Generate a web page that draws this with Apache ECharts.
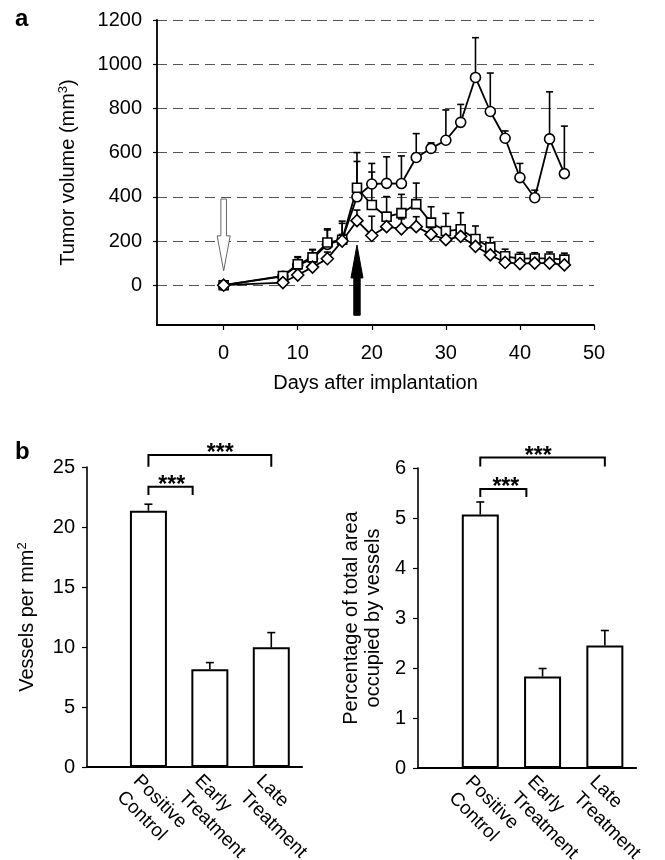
<!DOCTYPE html>
<html><head><meta charset="utf-8">
<script src="https://cdn.jsdelivr.net/npm/echarts@6/dist/echarts.min.js"></script>
<style>html,body{margin:0;padding:0;background:#fff}#c{width:665px;height:860px}</style>
</head><body><div id="c"></div>
<script>
// ---------- Panel a: tumor volume ----------
const days = [0, 8, 10, 12, 14, 16, 18, 20, 22, 24, 26, 28, 30, 32, 34, 36, 38, 40, 42, 44, 46];
const posMean  = [0, 40, 90, 120, 185, 205, 400, 458, 461, 460, 578, 619, 656, 737, 940, 786, 665, 487, 396, 662, 505];
const posTop   = [0, 60, 125, 160, 250, 290, 560, 551, 581, 585, 686, 644, 793, 818, 1120, 960, 698, 551, 430, 875, 720];
const lateMean = [0, 42, 95, 126, 193, 206, 441, 363, 310, 326, 367, 283, 245, 253, 209, 171, 131, 120, 121, 121, 116];
const lateTop  = [0, 55, 129, 162, 255, 280, 600, 512, 401, 411, 462, 355, 325, 328, 268, 216, 163, 148, 147, 150, 145];
const earlyMean= [0, 12, 46, 82, 120, 200, 292, 225, 265, 255, 265, 230, 206, 221, 176, 137, 103, 98, 100, 100, 92];
const earlyTop = [0, 20, 60, 100, 150, 230, 340, 312, 330, 300, 310, 260, 230, 250, 195, 155, 115, 110, 110, 110, 100];
const volTicks = [0, 200, 400, 600, 800, 1000, 1200];
const dayTicks = [0, 10, 20, 30, 40, 50];
// treatment arrows: [day, tail value, tip value, filled]
const arrows = [[0, 390, 65, 0], [18, -136, 182, 1]];

// ---------- Panel b ----------
const groups = ['Positive\nControl', 'Early\nTreatment', 'Late\nTreatment'];
const groupPos = [1, 2, 3];
const vesselsMean = [21.35, 8.15, 9.97];
const vesselsTop  = [21.9, 8.7, 11.2];
const areaMean = [5.07, 1.83, 2.45];
const areaTop  = [5.32, 1.99, 2.75];
// significance brackets: [x1, x2, top, foot, star x]
const sigVessels = [[1, 1.72, 23.36, 22.67, 1.38], [1, 3, 26.0, 25.03, 2.17]];
const sigArea    = [[1, 1.74, 5.58, 5.42, 1.41], [1, 3, 6.21, 6.03, 1.93]];

const FONT = '"Liberation Sans", Arial, Helvetica, sans-serif';
const chart = echarts.init(document.getElementById('c'), null, {renderer: 'canvas', width: 665, height: 860});

function zip3(a, b, c) { return a.map((v, i) => [v, b[i], c[i]]); }

function errBars(xi, yi, data, capW, z) {
  return {
    type: 'custom', xAxisIndex: xi, yAxisIndex: yi, z: z || 2, silent: true,
    data: data, encode: {x: 0, y: [1, 2]},
    renderItem: function (params, api) {
      const x = api.value(0), m = api.value(1), t = api.value(2);
      const p1 = api.coord([x, m]), p2 = api.coord([x, t]);
      const st = {stroke: '#000', lineWidth: 1.6};
      return {type: 'group', children: [
        {type: 'line', shape: {x1: p1[0], y1: p1[1], x2: p2[0], y2: p2[1]}, style: st},
        {type: 'line', shape: {x1: p2[0] - capW / 2, y1: p2[1], x2: p2[0] + capW / 2, y2: p2[1]}, style: st}
      ]};
    }
  };
}

function sigSeries(xi, yi, data) {
  return {
    type: 'custom', xAxisIndex: xi, yAxisIndex: yi, silent: true, clip: false, z: 5,
    data: data, encode: {x: [0, 1], y: [2, 3]},
    renderItem: function (params, api) {
      const x1 = api.value(0), x2 = api.value(1), top = api.value(2), foot = api.value(3), sx = api.value(4);
      const a = api.coord([x1, foot]), b = api.coord([x1, top]), c = api.coord([x2, top]), d = api.coord([x2, foot]);
      const s = api.coord([sx, top]);
      return {type: 'group', children: [
        {type: 'polyline', shape: {points: [a, b, c, d]}, style: {stroke: '#000', lineWidth: 2, fill: null}},
        {type: 'text', x: s[0], y: b[1] - 1,
          style: {text: '***', font: 'bold 23px ' + FONT, fill: '#000', align: 'center', verticalAlign: 'middle'}}
      ]};
    }
  };
}

function catLabels(xi, yi) {
  return {
    type: 'custom', xAxisIndex: xi, yAxisIndex: yi, silent: true, clip: false, z: 5,
    data: groupPos.map((p, i) => [p, 0, i]), encode: {x: 0, y: 1},
    renderItem: function (params, api) {
      const c = api.coord([api.value(0), 0]);
      return {type: 'text', x: c[0] - 4, y: c[1] + 3, rotation: -Math.PI / 4,
        style: {text: groups[api.value(2)], font: '19px ' + FONT, fill: '#000', align: 'left', verticalAlign: 'top', lineHeight: 23}};
    }
  };
}

const arrowSeries = {
  type: 'custom', xAxisIndex: 0, yAxisIndex: 0, silent: true, z: 1, data: arrows,
  renderItem: function (params, api) {
    const d = api.value(0), from = api.value(1), to = api.value(2), filled = api.value(3);
    const tail = api.coord([d, from]), tip = api.coord([d, to]);
    const dir = tip[1] > tail[1] ? 1 : -1;
    const L = filled ? 33 : 35, hw = filled ? 3.2 : 2.8, HW = filled ? 6 : 6.5;
    const hy = tip[1] - dir * L, x = tip[0];
    return {type: 'polygon', shape: {points: [
      [x - hw, tail[1]], [x - hw, hy], [x - HW, hy], [x, tip[1]], [x + HW, hy], [x + hw, hy], [x + hw, tail[1]]
    ]}, style: filled ? {fill: '#000', stroke: '#000', lineWidth: 1} : {fill: '#fff', stroke: '#666', lineWidth: 1}};
  }
};

function lineSeries(name, mean, symbol, size) {
  return {
    name: name, type: 'line', xAxisIndex: 0, yAxisIndex: 0, z: 3,
    data: days.map((d, i) => [d, mean[i]]),
    symbol: symbol, symbolSize: size, showAllSymbol: true,
    lineStyle: {color: '#000', width: 1.8},
    itemStyle: {color: '#fff', borderColor: '#000', borderWidth: 1.6},
    emphasis: {disabled: true}
  };
}

const labelBase = {color: '#000', fontFamily: FONT, fontSize: 20, formatter: v => String(v)};

const option = {
  backgroundColor: '#fff',
  animation: false,
  textStyle: {fontFamily: FONT},
  graphic: [
    {type: 'text', left: 15, top: 7, style: {text: 'a', font: 'bold 24px ' + FONT, fill: '#000'}},
    {type: 'text', left: 15, top: 440, style: {text: 'b', font: 'bold 24px ' + FONT, fill: '#000'}}
  ],
  grid: [
    {left: 157, top: 20, width: 437, height: 305},
    {left: 87, top: 467, width: 215, height: 300},
    {left: 418, top: 468, width: 218, height: 300}
  ],
  xAxis: [
    {gridIndex: 0, type: 'value', min: -9, max: 50,
      axisLine: {onZero: false, lineStyle: {color: '#000', width: 1.8}}, splitLine: {show: false},
      axisTick: {customValues: dayTicks, length: 5, lineStyle: {color: '#000', width: 1.2}},
      axisLabel: Object.assign({customValues: dayTicks, margin: 18}, labelBase),
      name: 'Days after implantation', nameLocation: 'middle', nameGap: 48,
      nameTextStyle: {color: '#000', fontFamily: FONT, fontSize: 20}},
    {gridIndex: 1, type: 'value', min: 0, max: 3.5,
      axisLine: {onZero: false, lineStyle: {color: '#000', width: 2.2}}, splitLine: {show: false},
      axisTick: {show: false}, axisLabel: {show: false}},
    {gridIndex: 2, type: 'value', min: 0, max: 3.5,
      axisLine: {onZero: false, lineStyle: {color: '#000', width: 2.2}}, splitLine: {show: false},
      axisTick: {show: false}, axisLabel: {show: false}}
  ],
  yAxis: [
    {gridIndex: 0, type: 'value', min: -180, max: 1200,
      axisLine: {show: true, onZero: false, lineStyle: {color: '#000', width: 1.8}},
      axisTick: {show: true, customValues: volTicks, length: 4, lineStyle: {color: '#000', width: 1.2}},
      axisLabel: Object.assign({customValues: volTicks, margin: 15}, labelBase),
      splitLine: {show: true, lineStyle: {color: '#555', width: 1.2, type: [10, 6]}},
      name: 'Tumor volume (mm{sup|3})', nameLocation: 'middle', nameGap: 77, nameRotate: 90,
      nameTextStyle: {color: '#000', fontFamily: FONT, fontSize: 20,
        rich: {sup: {fontSize: 13, fontFamily: FONT, color: '#000', verticalAlign: 'top', padding: [0, 0, 10, 0]}}}},
    {gridIndex: 1, type: 'value', min: 0, max: 25, interval: 5,
      axisLine: {show: true, onZero: false, lineStyle: {color: '#000', width: 1.6}},
      axisTick: {show: true, length: 5, lineStyle: {color: '#000', width: 1.2}},
      axisLabel: Object.assign({margin: 12}, labelBase),
      splitLine: {show: false},
      name: 'Vessels per mm{sup|2}', nameLocation: 'middle', nameGap: 48, nameRotate: 90,
      nameTextStyle: {color: '#000', fontFamily: FONT, fontSize: 20,
        rich: {sup: {fontSize: 13, fontFamily: FONT, color: '#000', verticalAlign: 'top', padding: [0, 0, 10, 0]}}}},
    {gridIndex: 2, type: 'value', min: 0, max: 6, interval: 1,
      axisLine: {show: true, onZero: false, lineStyle: {color: '#000', width: 1.6}},
      axisTick: {show: true, length: 5, lineStyle: {color: '#000', width: 1.2}},
      axisLabel: Object.assign({margin: 12}, labelBase),
      splitLine: {show: false},
      name: 'Percentage of total area\noccupied by vessels', nameLocation: 'middle', nameGap: 34, nameRotate: 90,
      nameTextStyle: {color: '#000', fontFamily: FONT, fontSize: 20, lineHeight: 22}}
  ],
  series: [
    arrowSeries,
    errBars(0, 0, zip3(days, posMean, posTop), 7, 2),
    errBars(0, 0, zip3(days, lateMean, lateTop), 7, 2),
    errBars(0, 0, zip3(days, earlyMean, earlyTop), 7, 2),
    lineSeries('Positive control', posMean, 'circle', 10),
    lineSeries('Late treatment', lateMean, 'rect', 9),
    lineSeries('Early treatment', earlyMean, 'diamond', 12),
    {type: 'bar', xAxisIndex: 1, yAxisIndex: 1, barWidth: 37, z: 2,
      data: groupPos.map((p, i) => [p, vesselsMean[i]]),
      itemStyle: {color: '#fff', borderColor: '#000', borderWidth: 2}},
    errBars(1, 1, zip3(groupPos, vesselsMean, vesselsTop), 8, 3),
    sigSeries(1, 1, sigVessels),
    catLabels(1, 1),
    {type: 'bar', xAxisIndex: 2, yAxisIndex: 2, barWidth: 37, z: 2,
      data: groupPos.map((p, i) => [p, areaMean[i]]),
      itemStyle: {color: '#fff', borderColor: '#000', borderWidth: 2}},
    errBars(2, 2, zip3(groupPos, areaMean, areaTop), 8, 3),
    sigSeries(2, 2, sigArea),
    catLabels(2, 2)
  ]
};
chart.setOption(option);
</script></body></html>
